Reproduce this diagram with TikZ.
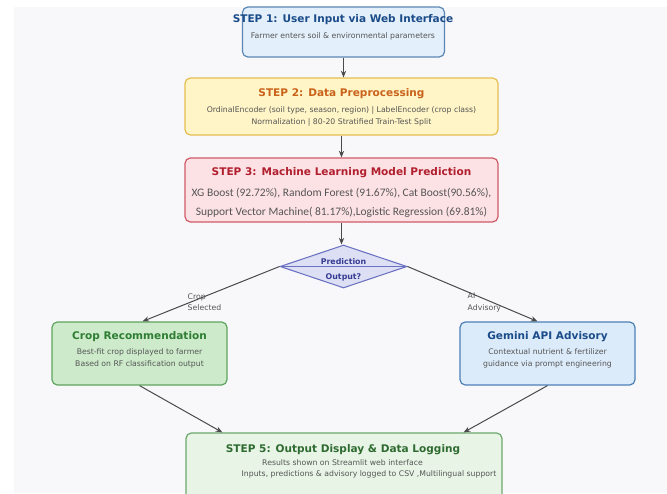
\documentclass[tikz,border=0pt]{standalone}
\usepackage{fontspec}
\setmainfont{DejaVu Sans}
\newfontfamily\carlito{Carlito}
\usetikzlibrary{shapes.geometric,arrows.meta,calc}

\definecolor{panelbg}{HTML}{F8F8FA}
\definecolor{subgray}{HTML}{555555}
\definecolor{arrgray}{HTML}{4A4A4A}
% step colours
\definecolor{blueFill}{HTML}{E3EFFA}
\definecolor{blueLine}{HTML}{5B87B5}
\definecolor{blueText}{HTML}{1B4C8A}
\definecolor{yelFill}{HTML}{FFF5C6}
\definecolor{yelLine}{HTML}{E6BE52}
\definecolor{yelText}{HTML}{C9621B}
\definecolor{redFill}{HTML}{FDE2E5}
\definecolor{redLine}{HTML}{D05A66}
\definecolor{redText}{HTML}{B11E2E}
\definecolor{diaFill}{HTML}{DDE0F4}
\definecolor{diaLine}{HTML}{6C72C2}
\definecolor{diaText}{HTML}{363C94}
\definecolor{grnFill}{HTML}{CDEBCB}
\definecolor{grnLine}{HTML}{5FA45F}
\definecolor{grnText}{HTML}{2E7D32}
\definecolor{gemFill}{HTML}{DCEBFA}
\definecolor{gemLine}{HTML}{4C80B6}
\definecolor{outFill}{HTML}{E8F5E6}
\definecolor{outLine}{HTML}{6CA86C}
\definecolor{outText}{HTML}{2F6B30}

\tikzset{
  stepbox/.style={draw, rounded corners=4pt, line width=0.9pt, inner sep=0pt},
  ttl/.style={font=\bfseries\fontsize{7.9}{9}\selectfont},
  sub/.style={font=\fontsize{5.8}{7}\selectfont, text=subgray},
  body/.style={font=\carlito\fontsize{8.6}{10}\selectfont, text=subgray},
  flow/.style={draw=arrgray, line width=0.75pt, -{Stealth[length=5pt,width=4pt]}},
}

\begin{document}
\begin{tikzpicture}[x=0.75pt,y=0.75pt,yscale=-1]
\useasboundingbox (0,0) rectangle (667,493);
%Shape: background panel
\fill [white] (0,0) rectangle (667,493);
\fill [panelbg] (14,7) rectangle (667,493);

%Shape: boxes
\draw (343.5,32) node [stepbox, fill=blueFill, draw=blueLine, minimum width=151.5pt, minimum height=37.5pt] (s1) {};
\draw (341.5,106.5) node [stepbox, fill=yelFill, draw=yelLine, minimum width=234.75pt, minimum height=42.75pt] (s2) {};
\draw (341.5,190) node [stepbox, fill=redFill, draw=redLine, minimum width=234.75pt, minimum height=48pt] (s3) {};
\draw (343.5,266.5) node [diamond, draw=diaLine, fill=diaFill, line width=0.8pt, inner sep=0pt, minimum width=95.25pt, minimum height=32.25pt] (dia) {};
\draw (139.5,353.5) node [stepbox, fill=grnFill, draw=grnLine, minimum width=131.25pt, minimum height=47.25pt] (crop) {};
\draw (547.5,353.5) node [stepbox, fill=gemFill, draw=gemLine, minimum width=131.25pt, minimum height=47.25pt] (gem) {};
\draw (344,466.5) node [stepbox, fill=outFill, draw=outLine, minimum width=237pt, minimum height=50.25pt] (s5) {};

%Straight Lines: connectors
\draw [flow] (s1.south) -- (s1.south |- s2.north);
\draw [flow] (s2.south) -- (s2.south |- s3.north);
\draw [flow] (s3.south) -- (s3.south |- dia.north);
\draw [draw=diaLine, line width=0.8pt] (dia.west) -- (dia.east);
\coordinate (cropin) at ($(crop.north)+(3,0)$);
\coordinate (gemin) at ($(gem.north)+(-10,0)$);
\draw [flow] (dia.west) -- (cropin);
\draw [flow] (dia.east) -- (gemin);
\coordinate (outl) at ($(s5.north west)+(37,0)$);
\coordinate (outr) at ($(s5.north east)+(-39,0)$);
\draw [flow] (crop.south) -- (outl);
\draw [flow] (gem.south) -- (outr);

% Text Node
\draw (343,20) node [ttl, text=blueText] (s1t) {STEP 1: User Input via Web Interface};
\draw (343,36) node [sub] (s1a) {Farmer enters soil \& environmental parameters};
% Text Node
\draw (341.5,94) node [ttl, text=yelText] (s2t) {STEP 2: Data Preprocessing};
\draw (341.5,110) node [sub] (s2a) {OrdinalEncoder (soil type, season, region) | LabelEncoder (crop class)};
\draw (341.5,122) node [sub] (s2b) {Normalization | 80-20 Stratified Train-Test Split};
% Text Node
\draw (341.5,173) node [ttl, text=redText] (s3t) {STEP 3: Machine Learning Model Prediction};
\draw (341.5,193) node [body] (s3a) {XG Boost (92.72\%), Random Forest (91.67\%), Cat Boost(90.56\%),};
\draw (341.5,212) node [body] (s3b) {Support Vector Machine( 81.17\%),Logistic Regression (69.81\%)};
% Text Node
\draw (343.5,262) node [text=diaText, font=\bfseries\fontsize{5.9}{7}\selectfont] (diat) {Prediction};
\draw (343.5,277) node [text=diaText, font=\bfseries\fontsize{5.9}{7}\selectfont] (diab) {Output?};
% Text Node
\draw (183,297) node [sub, anchor=west] (lc1) {Crop};
\draw (183,308) node [sub, anchor=west] (lc2) {Selected};
\draw (463,296) node [sub, anchor=west] (la1) {AI};
\draw (463,308) node [sub, anchor=west] (la2) {Advisory};
% Text Node
\draw (139.5,337) node [ttl, text=grnText] (cropt) {Crop Recommendation};
\draw (139.5,352) node [sub] (cropa) {Best-fit crop displayed to farmer};
\draw (139.5,364) node [sub] (cropb) {Based on RF classification output};
% Text Node
\draw (547.5,337) node [ttl, text=blueText] (gemt) {Gemini API Advisory};
\draw (547.5,352) node [sub] (gema) {Contextual nutrient \& fertilizer};
\draw (547.5,364) node [sub] (gemb) {guidance via prompt engineering};
% Text Node
\draw (343,450) node [ttl, text=outText] (s5t) {STEP 5: Output Display \& Data Logging};
\draw (342.5,463) node [sub] (s5a) {Results shown on Streamlit web interface};
\draw (369,474) node [sub] (s5b) {Inputs, predictions \& advisory logged to CSV ,Multilingual support};

\end{tikzpicture}
\end{document}
